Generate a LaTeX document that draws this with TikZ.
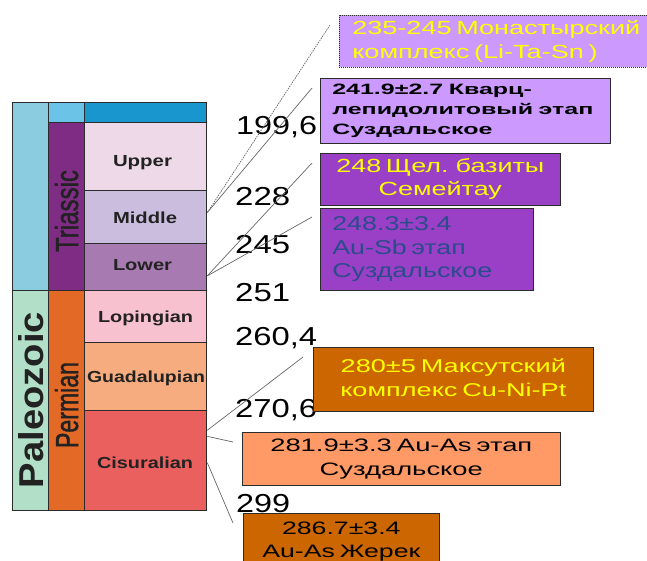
\documentclass[tikz,border=0pt]{standalone}
\usepackage{fontspec}
\setmainfont{Liberation Sans}
\newfontfamily\medfont{Liberation Sans}[FakeBold=1.6]
\usepackage{graphicx}
\usetikzlibrary{calc}
\definecolor{tblline}{HTML}{2B2B2B}
\definecolor{cmeso}{HTML}{8BCCE0}
\definecolor{cpaleo}{HTML}{B2DFC8}
\definecolor{ctoptwo}{HTML}{6CC3E8}
\definecolor{ctrias}{HTML}{7E2C84}
\definecolor{cperm}{HTML}{E26A26}
\definecolor{ctopthree}{HTML}{1A96CF}
\definecolor{cupper}{HTML}{EDD9E7}
\definecolor{cmiddle}{HTML}{CBBDDD}
\definecolor{clower}{HTML}{A87AB2}
\definecolor{cloping}{HTML}{F8C1CF}
\definecolor{cguad}{HTML}{F6AC7E}
\definecolor{ccisu}{HTML}{E9605E}
\definecolor{blav}{HTML}{CC99FF}
\definecolor{bpurp}{HTML}{9940C6}
\definecolor{bdorange}{HTML}{CC6600}
\definecolor{bsalmon}{HTML}{FF9966}
\definecolor{tyellow}{HTML}{FFFF00}
\definecolor{tblue}{HTML}{2B4B8C}
\definecolor{lbltext}{HTML}{222222}
\definecolor{conn}{HTML}{666666}
\newcommand\rtab[5]{\resizebox{#1pt}{\height}{\fontsize{#2pt}{#3pt}\selectfont\begin{tabular}{@{}#4@{}}#5\end{tabular}}}
\newcommand\fitw[3]{\resizebox{#1pt}{\height}{\fontsize{#2pt}{#2pt}\selectfont #3}}
\newcommand\fitwh[4]{\resizebox{#1pt}{#2pt}{\fontsize{#3pt}{#3pt}\selectfont #4}}
\begin{document}
\begin{tikzpicture}[x=1pt,y=-1pt,
  cell/.style={draw=tblline, line width=1.3pt, inner sep=0pt, anchor=north west},
  lbl/.style={text=lbltext, inner sep=0pt, anchor=base, font=\bfseries},
  vlbl/.style={text=lbltext, inner sep=0pt, anchor=base, rotate=90},
  num/.style={inner sep=0pt, anchor=base west},
  infobox/.style={draw=tblline, line width=0.6pt, anchor=north west, inner ysep=2pt},
  conline/.style={draw=conn, line width=0.7pt}]
\useasboundingbox (0,0) rectangle (647,560);
\clip (0,0) rectangle (647,560);
% column 1
\node[cell, fill=cmeso, minimum width=36pt, minimum height=188pt] (meso) at (12,102) {};
\node[cell, fill=cpaleo, minimum width=36pt, minimum height=220pt] (paleo) at (12,290) {};
% column 2
\node[cell, fill=ctoptwo, minimum width=36pt, minimum height=20pt] (toptwo) at (48,102) {};
\node[cell, fill=ctrias, minimum width=36pt, minimum height=168pt] (trias) at (48,122) {};
\node[cell, fill=cperm, minimum width=36pt, minimum height=220pt] (perm) at (48,290) {};
% column 3
\node[cell, fill=ctopthree, minimum width=122pt, minimum height=20pt] (topthree) at (84,102) {};
\node[cell, fill=cupper, minimum width=122pt, minimum height=68pt] (upper) at (84,122) {};
\node[cell, fill=cmiddle, minimum width=122pt, minimum height=53pt] (middle) at (84,190) {};
\node[cell, fill=clower, minimum width=122pt, minimum height=47pt] (lower) at (84,243) {};
\node[cell, fill=cloping, minimum width=122pt, minimum height=52pt] (loping) at (84,290) {};
\node[cell, fill=cguad, minimum width=122pt, minimum height=68pt] (guad) at (84,342) {};
\node[cell, fill=ccisu, minimum width=122pt, minimum height=100pt] (cisu) at (84,410) {};
% cell labels
\node[lbl] (tupper) at (142.5,166) {\fitw{59}{16}{Upper}};
\node[lbl] (tmiddle) at (145,223) {\fitw{64}{16}{Middle}};
\node[lbl] (tlower) at (142.5,270) {\fitw{59}{16}{Lower}};
\node[lbl] (tloping) at (145.5,322) {\fitw{95}{16}{Lopingian}};
\node[lbl] (tguad) at (146,382) {\fitw{118}{16}{Guadalupian}};
\node[lbl] (tcisu) at (145,468) {\fitw{96}{16}{Cisuralian}};
\node[vlbl, font=\medfont] (ttrias) at (78,211) {\fitwh{82}{23}{30}{Triassic}};
\node[vlbl, font=\medfont] (tperm) at (78,405) {\fitwh{86}{23}{30}{Permian}};
\node[vlbl, font=\bfseries] (tpaleo) at (43,400) {\fitwh{176}{25}{34}{Paleozoic}};
% boundary ages
\node[num] (n1) at (236,134) {\fitw{81}{26}{199,6}};
\node[num] (n2) at (235,205) {\fitw{55}{26}{228}};
\node[num] (n3) at (235,253) {\fitw{55}{26}{245}};
\node[num] (n4) at (235,301) {\fitw{55}{26}{251}};
\node[num] (n5) at (235,345) {\fitw{82}{26}{260,4}};
\node[num] (n6) at (235,417) {\fitw{82}{26}{270,6}};
\node[num] (n7) at (236,512) {\fitw{54}{26}{299}};
% info boxes
\node[infobox, fill=blav, text=tyellow, dash pattern=on 1pt off 1pt, text width=288pt, inner xsep=13pt, minimum height=52pt, align=left] (b1) at (339,15)
  {\rtab{288}{19}{24}{l}{235-245 Монастырский\\комплекс (Li-Ta-Sn )}};
\node[infobox, fill=blav, text=black, text width=266pt, inner xsep=12pt, minimum height=65pt, align=left, font=\bfseries] (b2) at (320,78)
  {\rtab{261}{15}{20}{l}{241.9±2.7 Кварц-\\лепидолитовый этап\\Суздальское}};
\node[infobox, fill=bpurp, text=tyellow, text width=216pt, inner xsep=12pt, minimum height=52pt, align=center] (b3) at (320,153)
  {\rtab{208}{19}{23}{c}{248 Щел. базиты\\Семейтау}};
\node[infobox, fill=bpurp, text=tblue, text width=189pt, inner xsep=12pt, minimum height=82pt, align=left] (b4) at (320,208)
  {\rtab{160}{20}{23.5}{l}{248.3±3.4\\Au-Sb этап\\Суздальское}};
\node[infobox, fill=bdorange, text=tyellow, text width=256pt, inner xsep=12pt, minimum height=64pt, align=center] (b5) at (313,347)
  {\rtab{226}{18.5}{24}{c}{280±5 Максутский\\комплекс Cu-Ni-Pt}};
\node[infobox, fill=bsalmon, text=black, text width=294pt, inner xsep=12pt, minimum height=53pt, align=center] (b6) at (242,432)
  {\rtab{262}{18}{24}{c}{281.9±3.3 Au-As этап\\Суздальское}};
\node[infobox, fill=bdorange, text=black, text width=172pt, inner xsep=12pt, minimum height=56pt, align=center] (b7) at (243,513)
  {\rtab{158}{18}{23}{c}{286.7±3.4\\Au-As Жерек}};
% connector anchor points
\coordinate (pM) at ($(middle.north east)!0.415!(middle.south east)$);
\coordinate (pL) at ($(lower.north east)!0.68!(lower.south east)$);
\coordinate (pCa) at ($(cisu.north east)!0.2!(cisu.south east)$);
\coordinate (pCb) at ($(cisu.north east)!0.26!(cisu.south east)$);
\coordinate (pCc) at ($(cisu.north east)!0.52!(cisu.south east)$);
\coordinate (eA) at ($(b1.north west)+(-9,10)$);
\coordinate (eB) at ($(b2.north west)+(-8,10)$);
\coordinate (eC) at ($(b3.north west)+(-8,10)$);
\coordinate (eD) at ($(b4.north west)+(-8,9)$);
\coordinate (eE) at ($(b5.north west)+(-10,10)$);
\coordinate (eF) at ($(b6.north west)+(-9,10)$);
\coordinate (eG) at ($(b7.north west)+(-10,10)$);
\draw[conline, dash pattern=on 1.5pt off 1pt] (pM) -- (eA);
\draw[conline] (pM) -- (eB);
\draw[conline] (pL) -- (eC);
\draw[conline] (pL) -- (eD);
\draw[conline] (pCa) -- (eE);
\draw[conline] (pCb) -- (eF);
\draw[conline] (pCc) -- (eG);
\end{tikzpicture}
\end{document}
